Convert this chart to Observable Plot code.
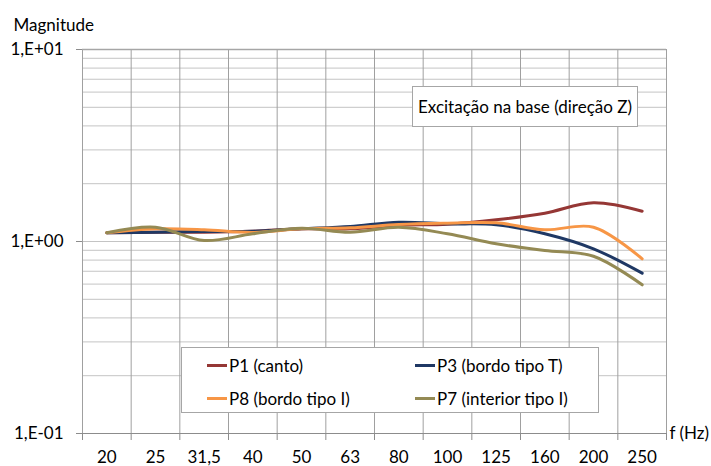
<!DOCTYPE html>
<html>
<head>
<meta charset="utf-8">
<script src="https://cdn.jsdelivr.net/npm/d3@7"></script>
<script src="https://cdn.jsdelivr.net/npm/@observablehq/plot@0.6"></script>
<style>
  html, body { margin: 0; padding: 0; background: #fff; }
  #wrap { position: relative; width: 711px; height: 466px; font-family: Lato, "Open Sans", sans-serif; color: #000; }
  #wrap svg { display: block; }
  .box { position: absolute; background: #fff; border: 1px solid #a6a6a6; box-sizing: border-box; font-size: 17px; }
  .note { left: 412px; top: 86px; width: 226px; height: 41px; display: flex; align-items: center; justify-content: center; }
  .legend { left: 181px; top: 347px; width: 418px; height: 66px; }
  .item { position: absolute; display: flex; align-items: center; height: 20px; white-space: nowrap; }
  .swatch { display: inline-block; width: 20px; height: 3px; margin-right: 2px; }
</style>
</head>
<body>
<div id="wrap"></div>
<script>
// ---- data ----
const freqs = ["20", "25", "31,5", "40", "50", "63", "80", "100", "125", "160", "200", "250"];
const p1 = [1.110, 1.118, 1.118, 1.131, 1.164, 1.164, 1.216, 1.231, 1.297, 1.404, 1.590, 1.438];
const p3 = [1.110, 1.118, 1.127, 1.131, 1.164, 1.197, 1.260, 1.236, 1.222, 1.097, 0.916, 0.684];
const p8 = [1.110, 1.164, 1.151, 1.114, 1.164, 1.178, 1.226, 1.245, 1.251, 1.151, 1.187, 0.812];
const p7 = [1.110, 1.187, 1.012, 1.097, 1.173, 1.118, 1.187, 1.097, 0.973, 0.898, 0.838, 0.595];
const seriesNames = ["P1 (canto)", "P3 (bordo tipo T)", "P8 (bordo tipo I)", "P7 (interior tipo I)"];
const seriesColors = ["#953735", "#1f3864", "#f79646", "#948a54"];
const yMajorTicks = [0.1, 1, 10];
const yTickLabels = ["1,E-01", "1,E+00", "1,E+01"];
const yTitle = "Magnitude";
const xTitle = "f (Hz)";
const noteText = "Excitação na base (direção Z)";

// ---- build table ----
const seriesValues = [p1, p3, p8, p7];
const rows = [];
seriesNames.forEach((name, s) => seriesValues[s].forEach((v, i) => rows.push({ i, name, v })));

const minorTicks = [];
for (let e = -1; e < 1; e++) for (let m = 1; m <= 9; m++) minorTicks.push(+(m * Math.pow(10, e)).toPrecision(3));
minorTicks.push(10);
const idx = d3.range(freqs.length);
const bounds = d3.range(freqs.length + 1).map(k => k - 0.5);

const chart = Plot.plot({
  width: 711,
  height: 466,
  marginLeft: 82,
  marginRight: 45,
  marginTop: 49,
  marginBottom: 33,
  style: { fontFamily: "Lato, 'Open Sans', sans-serif", fontSize: "17px", color: "#000", background: "#fff", overflow: "visible" },
  x: { type: "linear", domain: [-0.5, freqs.length - 0.5], axis: null },
  y: { type: "log", domain: [0.1, 10], axis: null },
  color: { domain: seriesNames, range: seriesColors },
  marks: [
    Plot.ruleY(minorTicks, { stroke: "#c4c4c4", strokeWidth: 1 }),
    Plot.ruleX(bounds, { stroke: "#a0a0a0", strokeWidth: 1 }),
    Plot.ruleY([10], { stroke: "#a6a6a6", strokeWidth: 1.5 }),
    Plot.ruleY([0.1], { stroke: "#8c8c8c", strokeWidth: 1 }),
    Plot.axisX(bounds, { tickFormat: () => "", tickSize: 7, stroke: "#8c8c8c", label: null }),
    Plot.axisX(idx, { tickFormat: i => freqs[i], tickSize: 0, tickPadding: 17, fill: "#000", label: null }),
    Plot.axisY(yMajorTicks, { tickFormat: d => yTickLabels[yMajorTicks.indexOf(d)], tickSize: 6, tickPadding: 13, stroke: "#8c8c8c", fill: "#000", label: null }),
    Plot.text([yTitle], { frameAnchor: "top-left", dx: -69, dy: -24, textAnchor: "start", lineAnchor: "middle", fill: "#000" }),
    Plot.text([xTitle], { frameAnchor: "bottom-right", dx: 3, textAnchor: "start", lineAnchor: "middle", fill: "#000" }),
    Plot.line(rows, { x: "i", y: "v", stroke: "name", z: "name", strokeWidth: 3, curve: "catmull-rom" })
  ]
});

const wrap = document.getElementById("wrap");
wrap.appendChild(chart);

// annotation box
const note = document.createElement("div");
note.className = "box note";
note.textContent = noteText;
wrap.appendChild(note);

// legend
const legend = document.createElement("div");
legend.className = "box legend";
seriesNames.forEach((name, s) => {
  const it = document.createElement("div");
  it.className = "item";
  it.style.left = (25 + (s % 2) * 208) + "px";
  it.style.top = (7 + Math.floor(s / 2) * 33) + "px";
  const sw = document.createElement("span");
  sw.className = "swatch";
  sw.style.background = seriesColors[s];
  const tx = document.createElement("span");
  tx.textContent = name;
  it.appendChild(sw);
  it.appendChild(tx);
  legend.appendChild(it);
});
wrap.appendChild(legend);
</script>
</body>
</html>
